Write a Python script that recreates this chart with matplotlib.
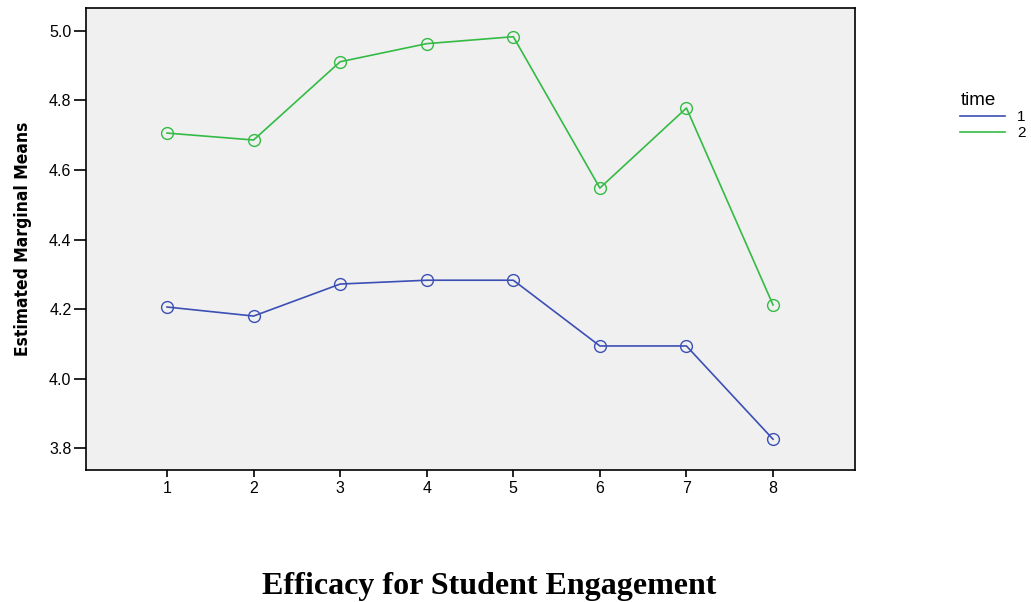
import matplotlib.pyplot as plt
from matplotlib.lines import Line2D

levels = [1, 2, 3, 4, 5, 6, 7, 8]
time1 = [4.206, 4.180, 4.272, 4.283, 4.283, 4.094, 4.094, 3.826]
time2 = [4.706, 4.686, 4.911, 4.963, 4.983, 4.548, 4.778, 4.212]
yticks = [3.8, 4.0, 4.2, 4.4, 4.6, 4.8, 5.0]

blue = "#3c4fb5"
green = "#33bb44"

plt.rcParams["font.family"] = "Liberation Sans"

fig = plt.figure(figsize=(10.31, 6.02), dpi=100)
ax = fig.add_axes([0.0834, 0.219, 0.7459, 0.768])
ax.set_facecolor("#f0f0f0")

ax.plot(levels, time1, color=blue, lw=1.2, marker="o", ms=8.5, mfc="none", mec=blue, mew=1.0)
ax.plot(levels, time2, color=green, lw=1.2, marker="o", ms=8.5, mfc="none", mec=green, mew=1.0)

ax.set_xlim(0.064, 8.947)
ax.set_ylim(3.737, 5.066)
ax.set_xticks(levels)
ax.set_yticks(yticks)
ax.set_yticklabels([f"{v:.1f}" for v in yticks])
for s in ax.spines.values():
    s.set_linewidth(1.2)
ax.tick_params(axis="y", direction="out", length=8.5, width=1.2, labelsize=11.5, pad=2)
ax.tick_params(axis="x", direction="out", length=5, width=1.2, labelsize=11.5, pad=3)

ax.set_ylabel("Estimated Marginal Means", family="DejaVu Sans", fontstretch="condensed",
              fontweight="bold", fontsize=12.5, labelpad=12)

fig.text(0.474, 0.013, "Efficacy for Student Engagement", family="Liberation Serif",
         fontweight="bold", fontsize=23, ha="center", va="baseline")

handles = [Line2D([], [], color=blue, lw=1.2), Line2D([], [], color=green, lw=1.2)]
leg = fig.legend(handles, ["1", "2"], title="time", loc="upper left",
                 bbox_to_anchor=(0.924, 0.86), frameon=False, fontsize=11,
                 title_fontsize=13.5, handlelength=2.9, handletextpad=0.8,
                 labelspacing=0.1, borderpad=0, alignment="left")

fig.savefig("out.png", dpi=100)
